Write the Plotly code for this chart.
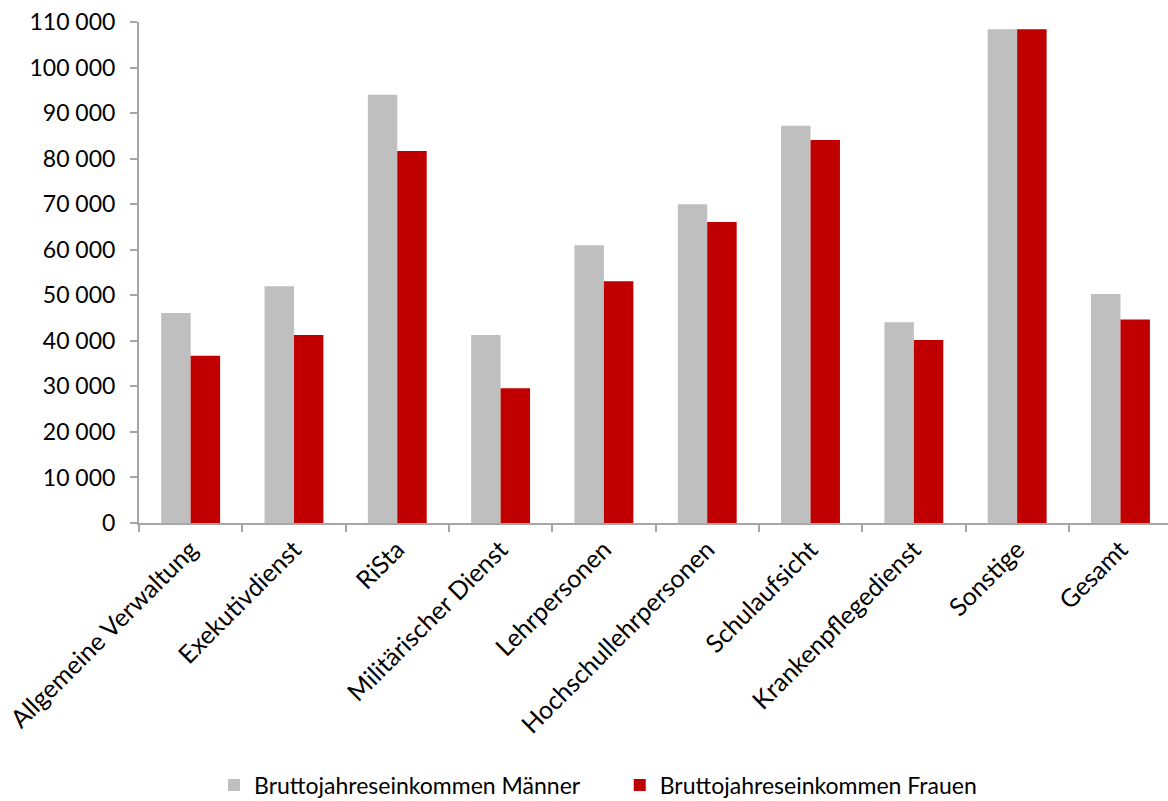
import plotly.graph_objects as go

categories = [
    "Allgemeine Verwaltung", "Exekutivdienst", "RiSta", "Militärischer Dienst",
    "Lehrpersonen", "Hochschullehrpersonen", "Schulaufsicht",
    "Krankenpflegedienst", "Sonstige", "Gesamt",
]
maenner = [46100, 52000, 94000, 41300, 61000, 70000, 87200, 44100, 108400, 50300]
frauen = [36700, 41300, 81700, 29600, 53100, 66100, 84100, 40200, 108400, 44700]

y_ticks = list(range(0, 110001, 10000))
y_tick_labels = [f"{v:,}".replace(",", " ") for v in y_ticks]

FONT = "Lato"
AXIS_GREY = "#A6A6A6"

fig = go.Figure()
fig.add_trace(go.Bar(
    x=categories, y=maenner, name="Bruttojahreseinkommen Männer",
    marker=dict(color="#BFBFBF", line=dict(width=0)), legend="legend",
))
fig.add_trace(go.Bar(
    x=categories, y=frauen, name="Bruttojahreseinkommen Frauen",
    marker=dict(color="#C00000", line=dict(width=0)), legend="legend2",
))

legend_style = dict(
    orientation="h", yanchor="middle", y=-0.523, xanchor="left",
    font=dict(size=23, family=FONT), itemwidth=30, bgcolor="rgba(0,0,0,0)",
)

fig.update_layout(
    width=1168, height=801,
    margin=dict(l=139, r=0, t=22, b=278, autoexpand=False),
    paper_bgcolor="white", plot_bgcolor="white",
    barmode="group", bargap=0.43, bargroupgap=0,
    font=dict(family=FONT, color="black"),
    showlegend=True,
    legend=dict(legend_style, x=0.0729),
    legend2=dict(legend_style, x=0.4672),
)
fig.update_xaxes(
    type="category", range=[-0.5, 9.46],
    showline=True, linecolor=AXIS_GREY, linewidth=2,
    ticks="outside", tickson="boundaries", ticklen=7, tickcolor=AXIS_GREY, tickwidth=2,
    tickangle=-45, tickfont=dict(size=25, family=FONT),
    showgrid=False, zeroline=False,
)
fig.update_yaxes(
    range=[0, 110000], tickvals=y_ticks, ticktext=y_tick_labels,
    showline=True, linecolor=AXIS_GREY, linewidth=2,
    ticks="outside", ticklen=7, tickcolor=AXIS_GREY, tickwidth=2,
    tickfont=dict(size=23, family=FONT), ticklabelstandoff=10,
    showgrid=False, zeroline=False,
)

fig.write_html("out.html")
